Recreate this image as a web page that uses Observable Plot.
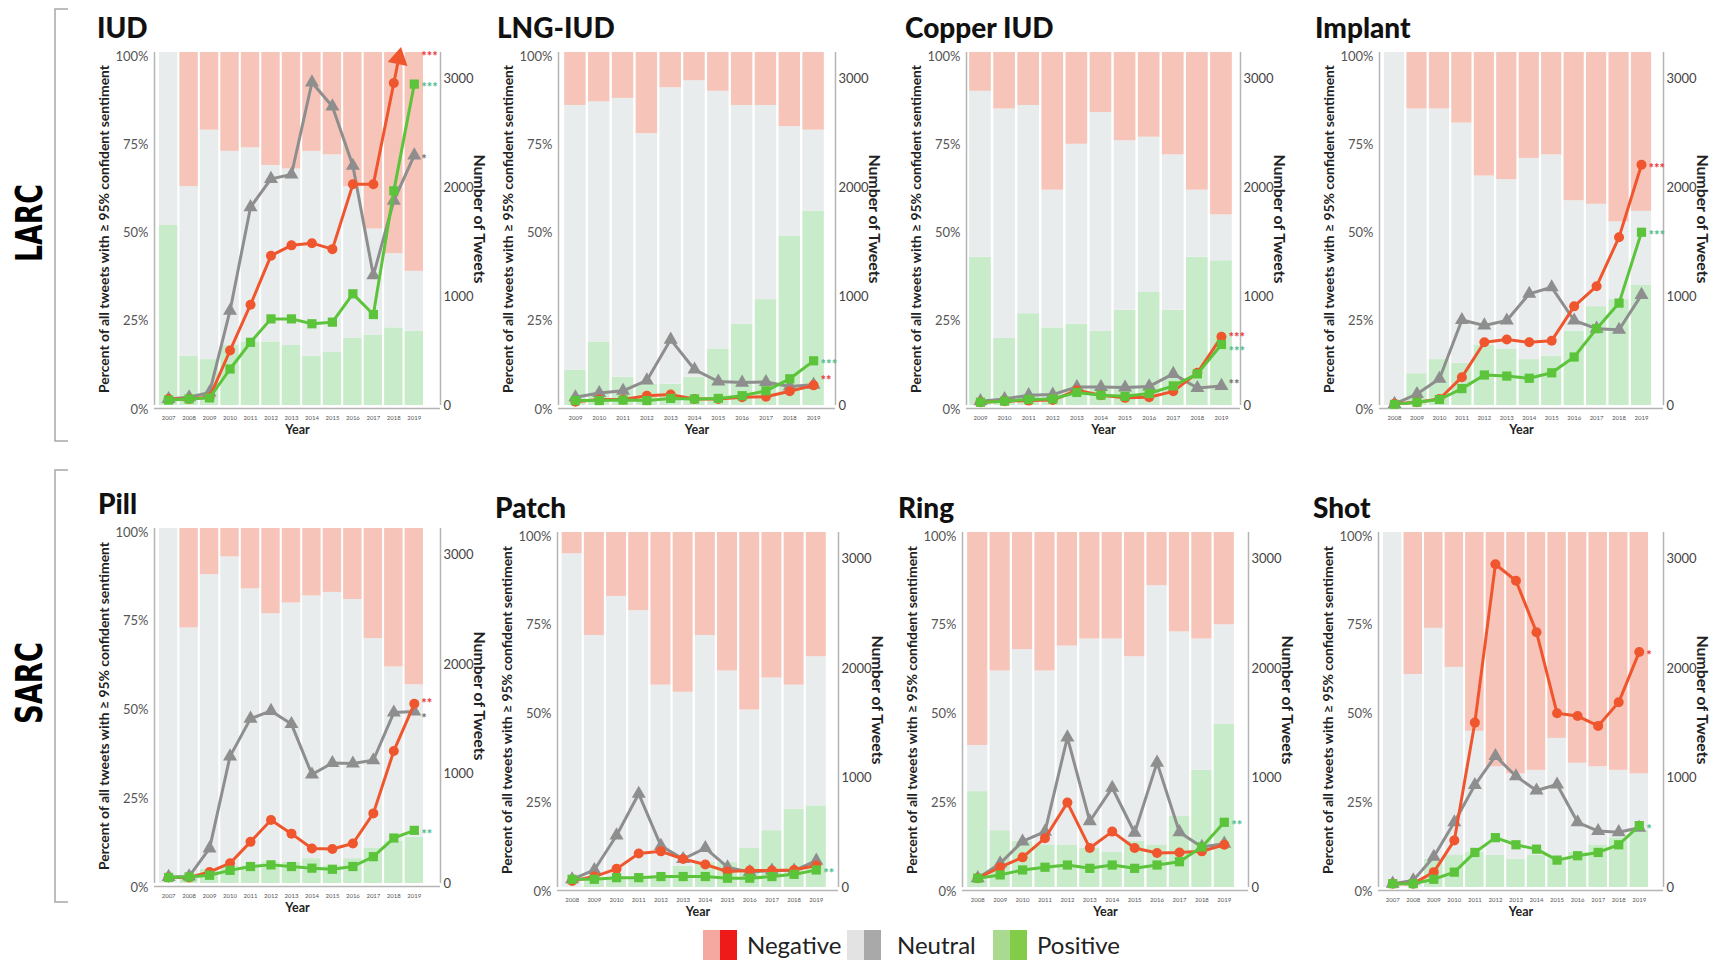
<!DOCTYPE html>
<html><head><meta charset="utf-8">
<script src="https://cdn.jsdelivr.net/npm/d3@7"></script>
<script src="https://cdn.jsdelivr.net/npm/@observablehq/plot@0.6"></script>
<style>
html,body{margin:0;padding:0;background:#fff;}
#page{position:relative;width:1720px;height:963px;overflow:hidden;font-family:Lato,"Open Sans",sans-serif;background:#fff;}
.title{font-weight:900;font-size:28px;line-height:30px;color:#111;white-space:nowrap;}
.legtxt{font-size:24px;color:#222;line-height:30px;white-space:nowrap;}
.sw{width:34px;height:30px;}
</style></head>
<body><div id="page"></div>
<script>
// ---------- data ----------
const yrs07 = [2007,2008,2009,2010,2011,2012,2013,2014,2015,2016,2017,2018,2019];
const yrs08 = [2008,2009,2010,2011,2012,2013,2014,2015,2016,2017,2018,2019];
const yrs09 = [2009,2010,2011,2012,2013,2014,2015,2016,2017,2018,2019];

const sentiments = ["Positive","Neutral","Negative"];
const pctTicks = [0,25,50,75,100];
const countTicks = [0,1000,2000,3000];

// percent of tweets (stacked bars)
const iudPctPos = [51,14,13,17,18,18,17,14,15,19,20,22,21];
const iudPctNeu = [49,48,65,55,55,50,50,58,56,43,30,21,17];
const iudPctNeg = [0,38,22,28,27,32,33,28,29,38,50,57,62];
// number of tweets (lines)
const iudNeg = [60,60,75,505,925,1375,1470,1490,1435,2030,2030,2960,3900];
const iudNeu = [60,75,120,870,1820,2080,2120,2965,2745,2200,1195,1880,2295];
const iudPos = [50,60,70,335,580,795,795,750,765,1025,835,1970,2950];

const lngPctPos = [10,18,8,6,6,8,16,23,30,48,55];
const lngPctNeu = [75,68,79,71,84,84,73,62,55,31,23];
const lngPctNeg = [15,14,13,23,10,8,11,15,15,21,22];
const lngNeg = [35,55,55,90,100,60,60,75,80,130,185];
const lngNeu = [75,115,135,230,605,330,220,210,215,175,190];
const lngPos = [45,45,50,45,65,60,65,90,135,245,410];

const cuPctPos = [42,19,26,22,23,21,27,32,27,42,41];
const cuPctNeu = [47,65,59,39,51,62,48,44,44,19,13];
const cuPctNeg = [11,16,15,39,26,17,25,24,29,39,46];
const cuNeg = [30,40,45,50,140,95,70,75,130,300,630];
const cuNeu = [40,60,95,100,170,170,165,175,290,160,180];
const cuPos = [30,40,55,60,120,95,85,110,180,290,560];

const impPctPos = [0,9,13,12,17,16,13,14,21,28,30,34];
const impPctNeu = [100,75,71,68,48,48,57,57,37,29,22,21];
const impPctNeg = [0,16,16,20,35,36,30,29,42,43,48,45];
const impNeg = [15,30,60,260,580,605,580,595,910,1095,1545,2210];
const impNeu = [15,105,245,785,735,780,1025,1085,780,705,695,1015];
const impPos = [10,30,55,155,280,270,250,300,445,705,940,1590];

const pillPctPos = [0,2,4,5,5,6,6,7,5,7,10,12,13];
const pillPctNeu = [100,70,83,87,78,70,73,74,77,73,59,49,43];
const pillPctNeg = [0,28,13,8,17,24,21,19,18,20,31,39,44];
const pillNeg = [55,55,105,185,380,580,455,320,315,365,640,1210,1640];
const pillNeu = [60,65,320,1160,1505,1575,1455,995,1100,1095,1125,1560,1570];
const pillPos = [55,60,75,120,155,170,155,140,130,155,245,415,485];

const patchPctPos = [0,3,3,3,3,6,7,7,11,16,22,23];
const patchPctNeu = [94,68,79,75,54,49,64,54,39,43,35,42];
const patchPctNeg = [6,29,18,22,43,45,29,39,50,41,43,35];
const patchNeg = [60,100,170,310,330,260,210,145,155,155,160,200];
const patchNeu = [75,160,475,855,380,260,360,185,140,155,155,245];
const patchPos = [75,75,90,90,100,100,100,85,85,100,120,160];

const ringPctPos = [27,16,13,12,12,11,10,13,12,20,33,46];
const ringPctNeu = [13,45,54,49,56,59,60,52,73,52,37,28];
const ringPctNeg = [60,39,33,39,32,30,30,35,15,28,30,26];
const ringNeg = [85,185,275,450,775,360,510,360,315,320,330,390];
const ringNeu = [85,220,420,510,1370,605,910,500,1140,505,370,400];
const ringPos = [85,115,160,185,205,175,205,175,205,235,370,595];

const shotPctPos = [0,0,8,9,10,9,8,9,8,10,12,14,16];
const shotPctNeu = [100,60,65,53,34,25,24,24,34,25,22,19,16];
const shotPctNeg = [0,40,27,38,56,66,68,67,58,65,66,67,68];
const shotNeg = [35,35,140,430,1505,2950,2800,2330,1590,1565,1475,1690,2150];
const shotNeu = [35,65,280,595,935,1200,1015,885,940,595,515,505,545];
const shotPos = [35,35,75,140,320,455,390,350,250,290,320,390,565];

// ---------- styling / layout ----------
const FONT = "Lato, 'Open Sans', sans-serif";
const ML = 62, MR = 52, MT = 8, MB = 40, YMAX = 3240;
const barColors = ["#c8ebca", "#e9eced", "#f6c4b8"];
const lineStyle = {
  neu: {color: "#8e8e8e", symbol: "triangle", r: 5.2, ann: "#707070"},
  neg: {color: "#f0562e", symbol: "circle", r: 5, ann: "#e8383a"},
  pos: {color: "#5cc43a", symbol: "square", r: 5.2, ann: "#4dbb8a"}
};
const leftLabel = "Percent of all tweets with \u2265 95% confident sentiment";
const rightLabel = "Number of Tweets";

const panels = [
  {title:"IUD", fx0:154, fx1:440, fy0:52, fy1:405, tdx:-57, padL:0.69, padR:1.28, years:yrs07,
   pct:[iudPctPos,iudPctNeu,iudPctNeg], cnt:{neu:iudNeu,neg:iudNeg,pos:iudPos},
   ann:[["neg","***",0],["pos","***",0],["neu","*",0]]},
  {title:"LNG-IUD", fx0:558, fx1:835, fy0:52, fy1:405, tdx:-61, padL:0.71, padR:0.92, years:yrs09,
   pct:[lngPctPos,lngPctNeu,lngPctNeg], cnt:{neu:lngNeu,neg:lngNeg,pos:lngPos},
   ann:[["pos","***",0],["neg","**",-9]]},
  {title:"Copper IUD", fx0:966, fx1:1240, fy0:52, fy1:405, tdx:-61, padL:0.58, padR:0.79, years:yrs09,
   pct:[cuPctPos,cuPctNeu,cuPctNeg], cnt:{neu:cuNeu,neg:cuNeg,pos:cuPos},
   ann:[["neg","***",-3],["pos","***",3],["neu","**",-5]]},
  {title:"Implant", fx0:1379, fx1:1663, fy0:52, fy1:405, tdx:-64, padL:0.67, padR:0.98, years:yrs08,
   pct:[impPctPos,impPctNeu,impPctNeg], cnt:{neu:impNeu,neg:impNeg,pos:impPos},
   ann:[["neg","***",0],["pos","***",0]]},
  {title:"Pill", fx0:154, fx1:440, fy0:528, fy1:883, tdx:-56, padL:0.69, padR:1.28, years:yrs07,
   pct:[pillPctPos,pillPctNeu,pillPctNeg], cnt:{neu:pillNeu,neg:pillNeg,pos:pillPos},
   ann:[["neg","**",-4],["neu","*",3],["pos","**",0]]},
  {title:"Patch", fx0:557, fx1:838, fy0:532, fy1:887, tdx:-62, padL:0.66, padR:1.0, years:yrs08,
   pct:[patchPctPos,patchPctNeu,patchPctNeg], cnt:{neu:patchNeu,neg:patchNeg,pos:patchPos},
   ann:[["pos","**",0]]},
  {title:"Ring", fx0:962, fx1:1248, fy0:532, fy1:887, tdx:-64, padL:0.68, padR:1.08, years:yrs08,
   pct:[ringPctPos,ringPctNeu,ringPctNeg], cnt:{neu:ringNeu,neg:ringNeg,pos:ringPos},
   ann:[["pos","**",0]]},
  {title:"Shot", fx0:1378, fx1:1663, fy0:532, fy1:887, tdx:-65, padL:0.69, padR:1.18, years:yrs07,
   pct:[shotPctPos,shotPctNeu,shotPctNeg], cnt:{neu:shotNeu,neg:shotNeg,pos:shotPos},
   ann:[["neg","*",0],["pos","*",0]]}
];

const page = document.getElementById("page");

function place(el, left, top) {
  el.style.position = "absolute";
  el.style.left = left + "px";
  el.style.top = top + "px";
  page.appendChild(el);
}

function fitText(svg, content, len) {
  svg.querySelectorAll("text").forEach(t => {
    if (t.textContent === content) {
      t.setAttribute("textLength", len);
      t.setAttribute("lengthAdjust", "spacingAndGlyphs");
    }
  });
}

function drawPanel(p) {
  const fw = p.fx1 - p.fx0, fh = p.fy1 - p.fy0;
  const W = fw + ML + MR, H = fh + MT + MB;
  const xd = [p.years[0] - p.padL, p.years[p.years.length - 1] + p.padR];

  // stacked percent rows
  const rows = [];
  p.years.forEach((yr, i) => {
    let acc = 0;
    sentiments.forEach((s, j) => {
      const v = p.pct[j][i];
      rows.push({year: yr, s, y1: acc, y2: acc + v});
      acc += v;
    });
  });

  const common = {
    width: W, height: H, marginLeft: ML, marginRight: MR, marginTop: MT, marginBottom: MB,
    style: {background: "transparent", fontFamily: FONT, overflow: "visible"}
  };

  const bars = Plot.plot({
    ...common,
    x: {domain: xd, axis: null},
    y: {domain: [0, 100], axis: null},
    color: {domain: sentiments, range: barColors},
    marks: [
      Plot.rectY(rows, {x1: d => d.year - 0.45, x2: d => d.year + 0.45, y1: "y1", y2: "y2", fill: "s"}),
      Plot.ruleX(xd, {stroke: "#b5b5b5", strokeWidth: 1.5}),
      Plot.ruleY([0], {stroke: "#b5b5b5", strokeWidth: 1.5, dy: 3}),
      Plot.axisY({ticks: pctTicks, tickFormat: d => d + "%", tickSize: 0, tickPadding: 6, fontSize: 13, color: "#555", label: null, dy: 4}),
      Plot.axisX({ticks: p.years, tickFormat: d => String(d), tickSize: 0, tickPadding: 10, fontSize: 6, color: "#555", label: null}),
      Plot.text(["Year"], {frameAnchor: "bottom", textAnchor: "middle", dy: 28, fontWeight: "bold", fontSize: 12.5, fill: "#222"}),
      Plot.text([leftLabel], {frameAnchor: "left", textAnchor: "middle", rotate: -90, dx: -50, fontWeight: "bold", fontSize: 12.5, fill: "#222"})
    ]
  });
  fitText(bars, leftLabel, 328);

  const order = ["neu", "neg", "pos"];
  const pxX = fw / (xd[1] - xd[0]), pxY = fh / YMAX;
  const lineMarks = [];
  order.forEach(key => {
    const st = lineStyle[key];
    const srows = p.years.map((yr, i) => ({year: yr, v: p.cnt[key][i]}));
    lineMarks.push(Plot.lineY(srows, {x: "year", y: "v", stroke: st.color, strokeWidth: 3, clip: true}));
    lineMarks.push(Plot.dot(srows.filter(d => d.v <= YMAX), {x: "year", y: "v", fill: st.color, symbol: st.symbol, r: st.r}));
    const k = srows.findIndex(d => d.v > YMAX);
    if (k > 0) {
      const a = srows[k - 1], b = srows[k];
      const t = (YMAX - a.v) / (b.v - a.v);
      const xc = a.year + t * (b.year - a.year);
      const dxp = (b.year - a.year) * pxX, dyp = (b.v - a.v) * pxY;
      const len = Math.hypot(dxp, dyp);
      const back = 6;
      const tip = [{year: xc - back * (dxp / len) / pxX, v: YMAX - back * (dyp / len) / pxY,
                    rot: Math.atan2(dxp, dyp) * 180 / Math.PI}];
      lineMarks.push(Plot.dot(tip, {x: "year", y: "v", rotate: "rot", symbol: "triangle", r: 7.5, fill: st.color}));
    }
  });

  const annRows = p.ann.map(([key, txt, ddy]) => {
    const vals = p.cnt[key];
    const last = vals[vals.length - 1];
    return {year: p.years[p.years.length - 1], v: Math.min(last, YMAX), txt, key, ddy};
  });
  const annMarks = annRows.map(a => Plot.text([a], {
    x: "year", y: "v", text: "txt", textAnchor: "start", dx: 7, dy: 4 + a.ddy,
    fontSize: 13, fontWeight: "bold", fill: lineStyle[a.key].ann
  }));

  const lines = Plot.plot({
    ...common,
    x: {domain: xd, axis: null},
    y: {domain: [0, YMAX], axis: null},
    marks: [
      ...lineMarks,
      Plot.axisY({anchor: "right", ticks: countTicks, tickFormat: d => String(d), tickSize: 0, tickPadding: 3, fontSize: 13, color: "#444", label: null}),
      Plot.text([rightLabel], {frameAnchor: "right", textAnchor: "middle", rotate: 90, dx: 38, dy: -10, fontWeight: "bold", fontSize: 15, fill: "#222"}),
      ...annMarks
    ]
  });
  fitText(lines, rightLabel, 129);

  place(bars, p.fx0 - ML, p.fy0 - MT);
  place(lines, p.fx0 - ML, p.fy0 - MT);

  const t = document.createElement("div");
  t.className = "title";
  t.textContent = p.title;
  place(t, p.fx0 + p.tdx, p.fy0 - 40);
}

panels.forEach(drawPanel);

// group labels and brackets
const NS = "http://www.w3.org/2000/svg";
const deco = document.createElementNS(NS, "svg");
deco.setAttribute("width", "100");
deco.setAttribute("height", "963");
const groups = [{label: "LARC", y0: 9, y1: 441, cy: 223, len: 78}, {label: "SARC", y0: 470, y1: 902, cy: 683, len: 82}];
groups.forEach(g => {
  const path = document.createElementNS(NS, "path");
  path.setAttribute("d", `M68,${g.y0}H55V${g.y1}H68`);
  path.setAttribute("fill", "none");
  path.setAttribute("stroke", "#a8a8a8");
  path.setAttribute("stroke-width", "1.5");
  deco.appendChild(path);
  const tx = document.createElementNS(NS, "text");
  tx.setAttribute("transform", `translate(42,${g.cy}) rotate(-90)`);
  tx.setAttribute("text-anchor", "middle");
  tx.setAttribute("font-family", "'DejaVu Sans Condensed', 'DejaVu Sans', sans-serif");
  tx.setAttribute("font-weight", "bold");
  tx.setAttribute("font-size", "38");
  tx.setAttribute("textLength", String(g.len));
  tx.setAttribute("lengthAdjust", "spacingAndGlyphs");
  tx.setAttribute("fill", "#000");
  tx.textContent = g.label;
  deco.appendChild(tx);
});
place(deco, 0, 0);

// legend
const legendItems = [
  {label: "Negative", light: "#f5a8a0", dark: "#ee1a1a", sx: 703, tx: 747},
  {label: "Neutral", light: "#e3e3e3", dark: "#a9a9a9", sx: 847, tx: 897},
  {label: "Positive", light: "#a9da8f", dark: "#82cc4a", sx: 993, tx: 1037}
];
legendItems.forEach(it => {
  const sw = document.createElement("div");
  sw.className = "sw";
  sw.style.background = `linear-gradient(to right, ${it.light} 0 50%, ${it.dark} 50% 100%)`;
  place(sw, it.sx, 930);
  const tx = document.createElement("div");
  tx.className = "legtxt";
  tx.textContent = it.label;
  place(tx, it.tx, 930);
});
</script></body></html>
